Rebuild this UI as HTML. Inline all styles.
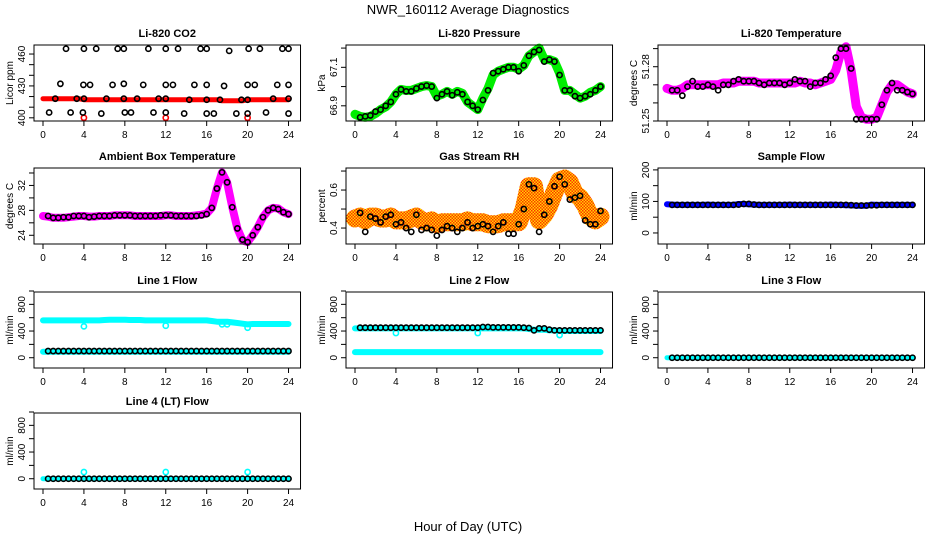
<!DOCTYPE html>
<html><head><meta charset="utf-8"><style>
html,body{margin:0;padding:0;background:#fff;}
svg{display:block;font-family:"Liberation Sans",sans-serif;}
</style></head><body>
<svg id="chart" width="936" height="540" viewBox="0 0 936 540" xmlns="http://www.w3.org/2000/svg">
<defs>
<pattern id="rhPat" width="3" height="3" patternUnits="userSpaceOnUse">
<rect width="3" height="3" fill="#ffd800"/>
<rect width="1.5" height="1.5" fill="#ff3000"/>
<rect x="1.5" y="1.5" width="1.5" height="1.5" fill="#ff3000"/>
</pattern>
</defs>
<text x="468" y="14" text-anchor="middle" font-size="13">NWR_160112  Average Diagnostics</text>
<text x="468" y="531" text-anchor="middle" font-size="13">Hour of Day (UTC)</text>
</svg>
<script>
// ---- data ----
const xTicks = [0,4,8,12,16,20,24];
const hours49 = [0,0.5,1,1.5,2,2.5,3,3.5,4,4.5,5,5.5,6,6.5,7,7.5,8,8.5,9,9.5,10,10.5,11,11.5,12,12.5,13,13.5,14,14.5,15,15.5,16,16.5,17,17.5,18,18.5,19,19.5,20,20.5,21,21.5,22,22.5,23,23.5,24];
const hours48 = [0.5,1,1.5,2,2.5,3,3.5,4,4.5,5,5.5,6,6.5,7,7.5,8,8.5,9,9.5,10,10.5,11,11.5,12,12.5,13,13.5,14,14.5,15,15.5,16,16.5,17,17.5,18,18.5,19,19.5,20,20.5,21,21.5,22,22.5,23,23.5,24];

const co2Red = [418,418,418,418,418,418,418,418,417,417,417,417,417,417,417,417,417,417,417,417,417,417,417,417,417,417,417,417,417,417,417,417,417,417,417,416,416,416,416,416,417,417,417,417,417,417,417,417,417];
const co2RedOutX = [4,12,20];
const co2RedOutY = [400,400,400];
const co2BlackX = [2.25,4,5.2,7.3,7.9,10.3,12,13.2,15.4,16,18.2,20.1,21.2,23.4,24, 1.7,3.95,4.6,6.8,7.9,9.8,12,12.7,14.8,16,17.7,20,20.7,22.9,24, 1.2,3.3,4,6.2,7.9,9.2,11.3,12,14.3,16,17.3,19.4,20,22.5,24, 0.6,2.7,3.9,5.7,8,8.6,10.8,12,13.8,16,16.7,18.9,20,21.8,24];
const co2BlackY = [465,465,465,465,465,465,465,465,465,465,463,465,465,465,465, 432,431,431,431,432,431,431,431,431,431,430,431,431,431,431, 418,418,418,418,418,418,418,418,417,417,417,417,417,418,418, 405,405,405,404,405,405,405,405,404,404,404,404,404,405,404];

const pressure = [66.856,66.845,66.84,66.845,66.86,66.88,66.895,66.92,66.96,66.985,66.98,66.98,66.99,67.0,67.005,67.0,66.95,66.96,66.975,66.96,66.975,66.965,66.92,66.9,66.88,66.94,66.99,67.06,67.08,67.09,67.1,67.1,67.09,67.11,67.16,67.18,67.2,67.14,67.14,67.13,67.07,66.98,66.98,66.96,66.94,66.95,66.97,66.98,67.0];
const pressureBlack = [66.84,66.845,66.85,66.87,66.88,66.9,66.92,66.96,66.985,66.975,66.975,66.99,67.0,67.005,67.0,66.94,66.96,66.975,66.955,66.97,66.96,66.92,66.9,66.88,66.93,66.98,67.07,67.08,67.09,67.1,67.1,67.08,67.11,67.16,67.18,67.19,67.13,67.14,67.13,67.06,66.98,66.98,66.95,66.94,66.95,66.96,66.98,67.0];

const temperature = [51.268,51.267,51.267,51.268,51.27,51.27,51.27,51.27,51.27,51.27,51.27,51.271,51.271,51.271,51.272,51.272,51.272,51.272,51.271,51.271,51.271,51.271,51.271,51.271,51.271,51.271,51.272,51.271,51.271,51.27,51.271,51.272,51.273,51.278,51.288,51.291,51.278,51.258,51.252,51.251,51.251,51.252,51.259,51.266,51.27,51.27,51.268,51.266,51.265];
const temperatureBlack = [51.267,51.267,51.264,51.269,51.272,51.269,51.269,51.27,51.269,51.267,51.27,51.27,51.272,51.273,51.272,51.272,51.272,51.271,51.27,51.271,51.271,51.271,51.27,51.271,51.273,51.272,51.272,51.269,51.271,51.271,51.273,51.275,51.285,51.29,51.29,51.279,51.251,51.251,51.251,51.251,51.251,51.259,51.267,51.271,51.267,51.267,51.266,51.265];

const ambient = [27.1,27.0,26.8,26.8,26.8,26.9,27.0,27.1,27.1,27.0,27.0,27.1,27.1,27.1,27.2,27.2,27.2,27.2,27.1,27.1,27.1,27.1,27.1,27.1,27.2,27.2,27.1,27.1,27.1,27.1,27.2,27.3,27.5,28.4,31.5,34.1,32.5,28.5,25.1,23.2,22.9,24.0,25.3,26.9,28.0,28.4,28.3,27.7,27.4];
const ambientBlack = [27.1,26.8,26.8,26.9,26.9,27.1,27.1,27.1,26.9,27.0,27.1,27.1,27.1,27.2,27.2,27.2,27.2,27.1,27.1,27.1,27.1,27.1,27.2,27.2,27.2,27.1,27.1,27.1,27.1,27.1,27.2,27.4,28.4,31.5,34.1,32.5,28.5,25.1,23.3,22.9,24.0,25.3,26.9,28.0,28.4,28.2,27.7,27.4];

const rh = [0.45,0.46,0.44,0.46,0.46,0.45,0.45,0.46,0.44,0.44,0.44,0.45,0.46,0.44,0.43,0.44,0.42,0.43,0.43,0.43,0.43,0.43,0.44,0.43,0.43,0.43,0.42,0.42,0.42,0.43,0.43,0.43,0.43,0.5,0.62,0.62,0.44,0.47,0.52,0.59,0.65,0.66,0.64,0.58,0.56,0.52,0.46,0.44,0.46];
const rhBlack = [0.48,0.38,0.46,0.45,0.43,0.46,0.47,0.42,0.43,0.40,0.38,0.47,0.39,0.40,0.39,0.36,0.39,0.41,0.40,0.38,0.40,0.43,0.40,0.41,0.42,0.41,0.38,0.41,0.43,0.37,0.37,0.42,0.50,0.63,0.61,0.38,0.47,0.54,0.62,0.67,0.63,0.55,0.56,0.57,0.44,0.42,0.42,0.49];

const sampleFlow = [91,90,89,89,89,89,89,89,90,89,89,89,89,89,92,92,91,90,89,89,89,89,89,89,90,89,89,89,89,89,89,89,90,89,89,88,88,86,86,86,90,89,89,89,89,89,89,89,89];
const sampleBlack = [89,89,89,89,89,89,89,89,89,89,89,89,89,90,92,92,90,89,89,89,89,89,89,89,89,89,89,89,89,89,89,89,89,89,89,88,87,87,87,88,88,89,89,89,89,89,89,89];

const line1Upper = [560,560,560,560,560,560,560,560,560,560,560,560,565,570,570,570,570,565,565,565,560,560,560,560,560,560,560,560,560,560,560,560,560,550,540,540,540,530,520,510,500,505,505,505,505,505,505,505,505];
const line1Lower = [90,90,90,90,90,90,90,90,90,90,90,90,90,90,90,90,90,90,90,90,90,90,90,90,90,90,90,90,90,90,90,90,90,90,90,90,90,90,90,90,90,90,90,90,90,90,90,90,90];
const line1Black = [100,100,100,100,100,100,100,100,100,100,100,100,100,100,100,100,100,100,100,100,100,100,100,100,100,100,100,100,100,100,100,100,100,100,100,100,100,100,100,100,100,100,100,100,100,100,100,100];
const line1OutX = [4,12,17.5,18,20];
const line1OutY = [470,480,500,500,450];

const line2Upper = [440,440,440,440,440,440,440,440,440,440,440,440,440,440,440,440,440,440,440,440,440,440,440,440,440,440,440,440,440,440,440,440,440,440,430,420,420,420,410,410,400,400,400,400,400,400,400,400,400];
const line2Lower = [85,85,85,85,85,85,85,85,85,85,85,85,85,85,85,85,85,85,85,85,85,85,85,85,85,85,85,85,85,85,85,85,85,85,85,85,85,85,85,85,85,85,85,85,85,85,85,85,85];
const line2Black = [450,450,450,450,450,450,450,450,450,450,450,450,450,450,450,450,450,450,450,450,450,450,450,450,460,460,455,455,455,455,455,455,450,445,410,440,440,420,410,410,410,410,410,410,410,410,410,410];
const line2OutX = [4,12,20];
const line2OutY = [370,370,340];

const line3Cyan = [0,0,0,0,0,0,0,0,0,0,0,0,0,0,0,0,0,0,0,0,0,0,0,0,0,0,0,0,0,0,0,0,0,0,0,0,0,0,0,0,0,0,0,0,0,0,0,0,0];
const line3Black = [0,0,0,0,0,0,0,0,0,0,0,0,0,0,0,0,0,0,0,0,0,0,0,0,0,0,0,0,0,0,0,0,0,0,0,0,0,0,0,0,0,0,0,0,0,0,0,0];

const line4Cyan = [0,0,0,0,0,0,0,0,0,0,0,0,0,0,0,0,0,0,0,0,0,0,0,0,0,0,0,0,0,0,0,0,0,0,0,0,0,0,0,0,0,0,0,0,0,0,0,0,0];
const line4Black = [0,0,0,0,0,0,0,0,0,0,0,0,0,0,0,0,0,0,0,0,0,0,0,0,0,0,0,0,0,0,0,0,0,0,0,0,0,0,0,0,0,0,0,0,0,0,0,0];
const line4OutX = [4,12,20];
const line4OutY = [100,100,100];

const flowTicks = [0,200,400,600,800,1000];
const flowLabels = [0,400,800];

// ---- drawing ----
const NS = "http://www.w3.org/2000/svg";
const svg = document.getElementById('chart');
const colX0 = [43,355,667];
const HPX = 10.23;
const rowTop = [45,168,292,413];
const BOXH = 76;

function mk(tag, attrs, parent){
  const e = document.createElementNS(NS, tag);
  for (const k in attrs) e.setAttribute(k, attrs[k]);
  (parent||svg).appendChild(e);
  return e;
}

function panel(o){
  const g = mk('g', {});
  
  
  const x0 = colX0[o.col], top = rowTop[o.row], bot = top + BOXH;
  const left = x0 - 9, right = x0 + 24*HPX + 12;
  const xs = h => x0 + h*HPX;
  const ys = v => bot - (v - o.dom[0]) / (o.dom[1] - o.dom[0]) * BOXH;
  const t = mk('text', {x:(left+right)/2, y:top-8, 'text-anchor':'middle', 'font-size':11, 'font-weight':'bold'}, g);
  t.textContent = o.title;
  
  
  o.draw(g, xs, ys);
  const b = mk('rect', {x:left, y:top, width:right-left, height:BOXH, fill:'none', stroke:'#000', 'stroke-width':1}, g);
  
  
  xTicks.forEach(h => {
    const x = xs(h);
    mk('line', {x1:x, x2:x, y1:bot, y2:bot+5, stroke:'#000'}, g);
    const l = mk('text', {x:x, y:bot+17, 'text-anchor':'middle', 'font-size':10}, g);
    l.textContent = h;
    
    
  });
  o.ticks.forEach(v => {
    const y = ys(v);
    mk('line', {x1:left-5, x2:left, y1:y, y2:y, stroke:'#000'}, g);
  });
  o.labels.forEach(v => {
    const y = ys(v);
    const l = mk('text', {x:0, y:0, 'text-anchor':'middle', 'font-size':10, transform:`translate(${left-9},${y}) rotate(-90)`}, g);
    l.textContent = v;
    
    
  });
  const yl = mk('text', {x:0, y:0, 'text-anchor':'middle', 'font-size':10, transform:`translate(${left-21},${top+BOXH/2}) rotate(-90)`}, g);
  yl.textContent = o.ylab;
  
  
}

function band(g, xs, ys, X, Y, color, w, name){
  const pts = X.map((h,i) => xs(h).toFixed(1) + ',' + ys(Y[i]).toFixed(1)).join(' ');
  const p = mk('polyline', {points:pts, fill:'none', stroke:color, 'stroke-width':w, 'stroke-linejoin':'round', 'stroke-linecap':'round'}, g);
  
  
}
function dots(g, xs, ys, X, Y, color, name, r){
  X.forEach((h,i) => {
    const c = mk('circle', {cx:xs(h), cy:ys(Y[i]), r:r||2.6, fill:'none', stroke:color, 'stroke-width':1.6}, g);
    
    
  });
}

panel({name:'co2', col:0, row:0, title:'Li-820 CO2', ylab:'Licor ppm', dom:[397,468.5], ticks:[400,410,420,430,440,450,460], labels:[400,430,460],
  draw:(g,xs,ys)=>{ band(g,xs,ys,hours49,co2Red,'#ff0000',5,'co2-red-series'); dots(g,xs,ys,co2RedOutX,co2RedOutY,'#ff0000','co2-red-point'); dots(g,xs,ys,co2BlackX,co2BlackY,'#000','co2-average-point'); }});
panel({name:'pressure', col:1, row:0, title:'Li-820 Pressure', ylab:'kPa', dom:[66.821,67.216], ticks:[66.9,67.0,67.1,67.2], labels:[66.9,67.1],
  draw:(g,xs,ys)=>{ band(g,xs,ys,hours49,pressure,'#00ee00',9,'pressure-series'); dots(g,xs,ys,hours48,pressureBlack,'#000','pressure-average-point'); }});
panel({name:'temperature', col:2, row:0, title:'Li-820 Temperature', ylab:'degrees C', dom:[51.25,51.292], ticks:[51.25,51.26,51.27,51.28,51.29], labels:[51.25,51.28],
  draw:(g,xs,ys)=>{ band(g,xs,ys,hours49,temperature,'#ff00ff',9,'temperature-series'); dots(g,xs,ys,hours48,temperatureBlack,'#000','temperature-average-point'); }});
panel({name:'ambient', col:0, row:1, title:'Ambient Box Temperature', ylab:'degrees C', dom:[22.6,34.8], ticks:[24,26,28,30,32,34], labels:[24,28,32],
  draw:(g,xs,ys)=>{ band(g,xs,ys,hours49,ambient,'#ff00ff',8,'ambient-series'); dots(g,xs,ys,hours48,ambientBlack,'#000','ambient-average-point'); }});
panel({name:'rh', col:1, row:1, title:'Gas Stream RH', ylab:'percent', dom:[0.316,0.716], ticks:[0.4,0.5,0.6,0.7], labels:[0.4,0.6],
  draw:(g,xs,ys)=>{ band(g,xs,ys,hours49,rh,'url(#rhPat)',18,'rh-series'); dots(g,xs,ys,hours48,rhBlack,'#000','rh-average-point'); }});
panel({name:'sample-flow', col:2, row:1, title:'Sample Flow', ylab:'ml/min', dom:[-35,206], ticks:[0,50,100,150,200], labels:[0,100,200],
  draw:(g,xs,ys)=>{ band(g,xs,ys,hours49,sampleFlow,'#0000ff',6,'sample-flow-series'); dots(g,xs,ys,hours48,sampleBlack,'#000','sample-flow-average-point'); }});
panel({name:'line1', col:0, row:2, title:'Line 1 Flow', ylab:'ml/min', dom:[-154,985], ticks:flowTicks, labels:flowLabels,
  draw:(g,xs,ys)=>{ band(g,xs,ys,hours49,line1Upper,'#00ffff',6,'line1-upper-series'); band(g,xs,ys,hours49,line1Lower,'#00ffff',6,'line1-lower-series'); dots(g,xs,ys,line1OutX,line1OutY,'#00ffff','line1-outlier'); dots(g,xs,ys,hours48,line1Black,'#000','line1-average-point'); }});
panel({name:'line2', col:1, row:2, title:'Line 2 Flow', ylab:'ml/min', dom:[-154,985], ticks:flowTicks, labels:flowLabels,
  draw:(g,xs,ys)=>{ band(g,xs,ys,hours49,line2Upper,'#00ffff',6,'line2-upper-series'); band(g,xs,ys,hours49,line2Lower,'#00ffff',6,'line2-lower-series'); dots(g,xs,ys,line2OutX,line2OutY,'#00ffff','line2-outlier'); dots(g,xs,ys,hours48,line2Black,'#000','line2-average-point'); }});
panel({name:'line3', col:2, row:2, title:'Line 3 Flow', ylab:'ml/min', dom:[-154,985], ticks:flowTicks, labels:flowLabels,
  draw:(g,xs,ys)=>{ band(g,xs,ys,hours49,line3Cyan,'#00ffff',5,'line3-series'); dots(g,xs,ys,hours48,line3Black,'#000','line3-average-point'); }});
panel({name:'line4', col:0, row:3, title:'Line 4 (LT) Flow', ylab:'ml/min', dom:[-154,985], ticks:flowTicks, labels:flowLabels,
  draw:(g,xs,ys)=>{ band(g,xs,ys,hours49,line4Cyan,'#00ffff',5,'line4-series'); dots(g,xs,ys,line4OutX,line4OutY,'#00ffff','line4-outlier'); dots(g,xs,ys,hours48,line4Black,'#000','line4-average-point'); }});
</script>
</body></html>
